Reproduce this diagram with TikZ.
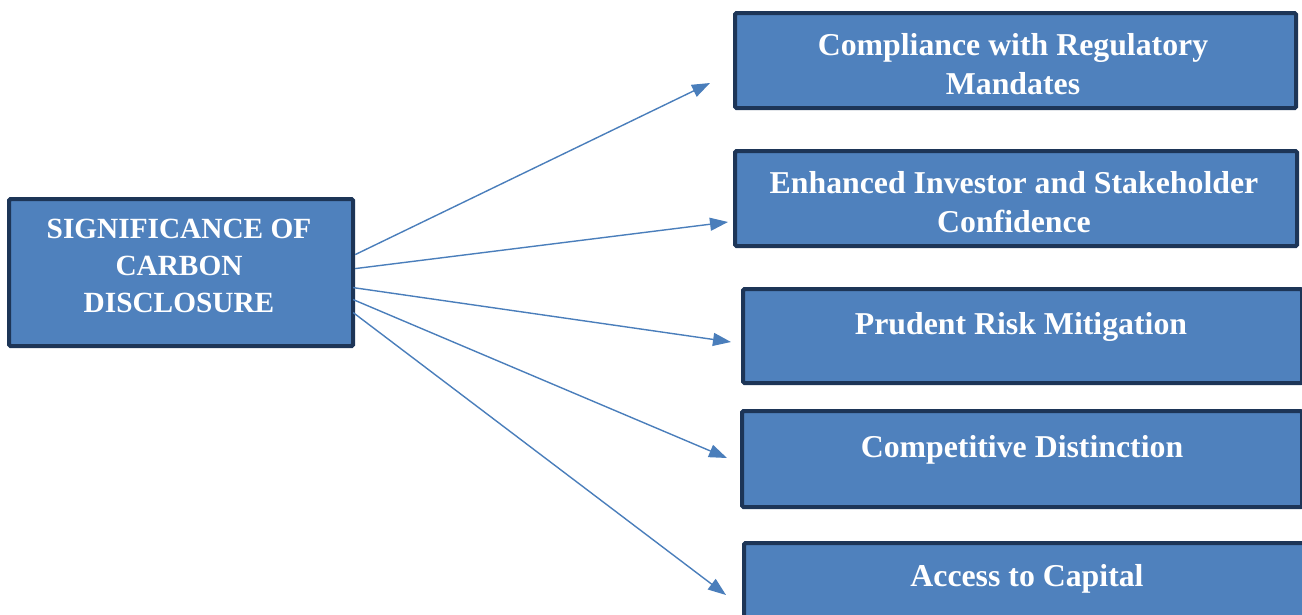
\documentclass[tikz,border=0pt]{standalone}
\usepackage{fontspec}
\setmainfont{Liberation Serif}
\usetikzlibrary{arrows.meta}
\definecolor{boxfill}{HTML}{4F81BD}
\definecolor{boxline}{HTML}{1D3557}
\definecolor{arrowcol}{HTML}{4A7EBB}
\begin{document}
\begin{tikzpicture}[x=1pt,y=-1pt,
  card/.style={draw=boxline,fill=boxfill,line width=4.2pt,rounded corners=1.5pt,
    inner sep=0pt,anchor=north west},
  cardtext/.style={text=white,font=\bfseries\fontsize{31.8}{39}\selectfont,align=center,inner sep=0pt},
  link/.style={draw=arrowcol,line width=1.4pt,-{Triangle[length=18pt,width=13pt]}}]
\useasboundingbox (0,0) rectangle (1302,614);
\begin{scope}
\clip (0,0) rectangle (1302,614);
% source box
\node[card,minimum width=344pt,minimum height=147pt] (src) at (7,197) {};
\node[cardtext,font=\bfseries\fontsize{29.3}{37}\selectfont] (srct) at (179,266) {SIGNIFICANCE OF\\CARBON\\DISCLOSURE};
% target boxes
\node[card,minimum width=561pt,minimum height=95pt] (b1) at (733,11) {};
\node[card,minimum width=562pt,minimum height=95pt] (b2) at (733,149) {};
\node[card,minimum width=559pt,minimum height=94pt] (b3) at (741,287) {};
\node[card,minimum width=560pt,minimum height=96pt] (b4) at (740,409) {};
\node[card,minimum width=570pt,minimum height=96pt] (b5) at (742,541) {};
\node[cardtext] (t1) at (1013,64) {Compliance with Regulatory\\Mandates};
\node[cardtext] (t2) at (1014,202) {Enhanced Investor and Stakeholder\\Confidence};
\node[cardtext] (t3) at (1021,327) {Prudent Risk Mitigation};
\node[cardtext] (t4) at (1022,450) {Competitive Distinction};
\node[cardtext] (t5) at (1027,579) {Access to Capital};
\end{scope}
% free arrow ends
\coordinate (e1) at (710,83);
\coordinate (e2) at (728,222);
\coordinate (e3) at (731,342);
\coordinate (e4) at (727,458);
\coordinate (e5) at (726,595);
\draw[link] ([yshift=18pt]src.east) -- (e1);
\draw[link] ([yshift=4pt]src.east) -- (e2);
\draw[link] ([xshift=-2pt,yshift=-15pt]src.east) -- (e3);
\draw[link] ([xshift=-2pt,yshift=-27pt]src.east) -- (e4);
\draw[link] ([xshift=-2pt,yshift=-40pt]src.east) -- (e5);
\end{tikzpicture}
\end{document}
